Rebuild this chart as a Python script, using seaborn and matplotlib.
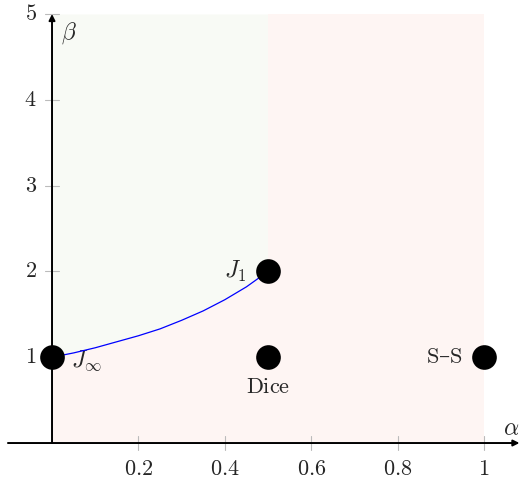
import matplotlib
matplotlib.use("Agg")
import matplotlib.pyplot as plt
import seaborn as sns
import pandas as pd

# curve J_inf -> J_1
curve_alpha = [0.0, 0.05, 0.1, 0.15, 0.2, 0.25, 0.3, 0.35, 0.4, 0.45, 0.5]
curve_beta = [1.0, 1.05, 1.11, 1.18, 1.25, 1.33, 1.43, 1.54, 1.67, 1.82, 2.0]

# named points
point_names = ["J_inf", "J_1", "Dice", "S-S"]
point_alpha = [0.0, 0.5, 0.5, 1.0]
point_beta = [1.0, 2.0, 1.0, 1.0]

x_ticks = [0.2, 0.4, 0.6, 0.8, 1.0]
x_tick_labels = ["0.2", "0.4", "0.6", "0.8", "1"]
y_ticks = [1, 2, 3, 4, 5]

sns.set_theme(style="white")
plt.rcParams["mathtext.fontset"] = "cm"
plt.rcParams["font.family"] = ["DejaVu Serif"]

fig = plt.figure(figsize=(5.21, 4.80), dpi=100)
ax = fig.add_axes([0, 0, 1, 1])
ax.set_xlim(-0.1204, 1.0856)
ax.set_ylim(-0.431, 5.163)
ax.axis("off")

green = "#f8faf5"
red = "#fef5f3"
ax.fill_between(curve_alpha, curve_beta, 5, color=green, lw=0, zorder=0)
ax.fill_between(curve_alpha, 0, curve_beta, color=red, lw=0, zorder=0)
ax.fill_between([0.5, 1.0], 0, 5, color=red, lw=0, zorder=0)

# tick marks
for t in x_ticks:
    ax.plot([t, t], [-0.08, 0.08], color="#bbbbbb", lw=0.8, zorder=1)
for t, lab in zip(x_ticks, x_tick_labels):
    ax.text(t, -0.17, "$%s$" % lab, ha="center", va="top", fontsize=16)
for t in y_ticks:
    ax.plot([-0.017, 0.017], [t, t], color="#bbbbbb", lw=0.8, zorder=1)
    ax.text(-0.035, t, "$%d$" % t, ha="right", va="center", fontsize=16)

# axes with arrows
ax.annotate("", xy=(1.082, 0), xytext=(-0.102, 0),
            arrowprops=dict(arrowstyle="-|>", color="black", lw=1.4,
                            mutation_scale=9, shrinkA=0, shrinkB=0), zorder=3)
ax.annotate("", xy=(0, 5.0), xytext=(0, 0),
            arrowprops=dict(arrowstyle="-|>", color="black", lw=1.4,
                            mutation_scale=9, shrinkA=0, shrinkB=0), zorder=3)
ax.text(1.063, 0.03, r"$\alpha$", ha="center", va="bottom", fontsize=17)
ax.text(0.04, 4.78, r"$\beta$", ha="center", va="center", fontsize=17)

curve = pd.DataFrame({"alpha": curve_alpha, "beta": curve_beta})
sns.lineplot(data=curve, x="alpha", y="beta", color="blue", lw=0.9,
             ax=ax, zorder=4, sort=False)

pts = pd.DataFrame({"name": point_names, "alpha": point_alpha, "beta": point_beta})
sns.scatterplot(data=pts, x="alpha", y="beta", color="black", s=270,
                edgecolor="black", ax=ax, zorder=5, legend=False)

ax.text(0.045, 0.96, r"$J_\infty$", ha="left", va="center", fontsize=17)
ax.text(0.45, 2.0, r"$J_1$", ha="right", va="center", fontsize=17)
ax.text(0.5, 0.65, r"$\mathrm{Dice}$", ha="center", va="center", fontsize=16)
ax.text(0.95, 1.0, r"$\mathrm{S}$–$\mathrm{S}$", ha="right", va="center",
        fontsize=16)

fig.savefig("out.png", dpi=100)
